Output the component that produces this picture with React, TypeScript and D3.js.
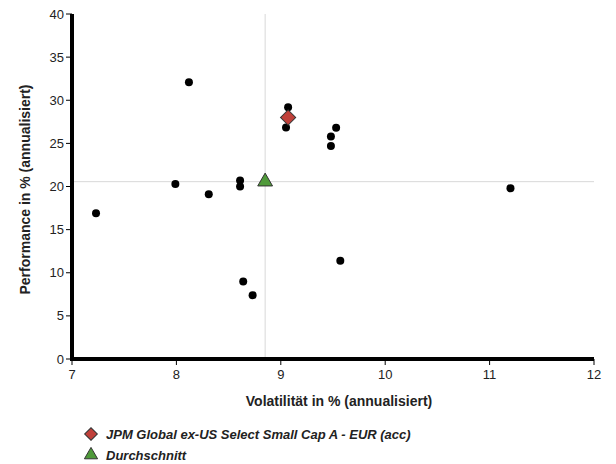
import React from "react";
import * as d3 from "d3";

const volatility = [7.23, 7.99, 8.12, 8.31, 8.61, 8.61, 8.64, 8.73, 9.07, 9.05, 9.53, 9.48, 9.48, 9.57, 11.2];
const performance = [16.9, 20.3, 32.1, 19.1, 20.7, 20.0, 9.0, 7.4, 29.2, 26.85, 26.8, 25.8, 24.7, 11.4, 19.8];
const fund = { name: "JPM Global ex-US Select Small Cap A - EUR (acc)", vol: 9.07, perf: 28.0 };
const average = { name: "Durchschnitt", vol: 8.85, perf: 20.56 };
const xTicks = [7, 8, 9, 10, 11, 12];
const yTicks = [0, 5, 10, 15, 20, 25, 30, 35, 40];

const W = 616, H = 464;
const left = 72, right = 594, top = 14, bottom = 359;

export default function App() {
  const x = d3.scaleLinear().domain([7, 12]).range([left, right]);
  const y = d3.scaleLinear().domain([0, 40]).range([bottom, top]);
  const font = "'Liberation Sans', Arial, sans-serif";
  const diamond = d3.symbol().type(d3.symbolSquare).size(115)();
  const tri = d3.symbol().type(d3.symbolTriangle).size(95)();
  const diamondSmall = d3.symbol().type(d3.symbolSquare).size(80)();
  const triSmall = d3.symbol().type(d3.symbolTriangle).size(75)();
  return (
    <svg width={W} height={H} style={{ position: "absolute", left: 0, top: 0 }} fontFamily={font}>
      <rect width={W} height={H} fill="#fff" />
      <line x1={x(average.vol)} x2={x(average.vol)} y1={top} y2={bottom} stroke="#d8d8d8" strokeWidth={1} />
      <line x1={left} x2={right} y1={y(average.perf)} y2={y(average.perf)} stroke="#d8d8d8" strokeWidth={1} />
      {yTicks.map((t) => (
        <g key={"y" + t}>
          <line x1={left - 6} x2={left} y1={y(t)} y2={y(t)} stroke="#000" />
          <text x={left - 8} y={y(t)} dy="0.35em" textAnchor="end" fontSize={13} fill="#222">{t}</text>
        </g>
      ))}
      {xTicks.map((t) => (
        <g key={"x" + t}>
          <line x1={x(t)} x2={x(t)} y1={bottom} y2={bottom + 6} stroke="#000" />
          <text x={x(t)} y={bottom + 20} textAnchor="middle" fontSize={13} fill="#222">{t}</text>
        </g>
      ))}
      <line x1={left} x2={left} y1={top} y2={bottom + 2} stroke="#000" strokeWidth={4} />
      <line x1={left - 2} x2={right} y1={bottom} y2={bottom} stroke="#000" strokeWidth={4} />
      {volatility.map((v, i) => (
        <circle key={i} cx={x(v)} cy={y(performance[i])} r={4} fill="#000" />
      ))}
      <path d={tri!} transform={`translate(${x(average.vol)},${y(average.perf)})`} fill="#4f9a3a" stroke="#333" strokeWidth={1} />
      <path d={diamond!} transform={`translate(${x(fund.vol)},${y(fund.perf)}) rotate(45)`} fill="#c0403a" stroke="#333" strokeWidth={1} />
      <text x={(left + right) / 2 + 6} y={406} textAnchor="middle" fontSize={14} fontWeight="bold" fill="#222">Volatilität in % (annualisiert)</text>
      <text transform={`translate(30,${(top + bottom) / 2 + 3}) rotate(-90)`} textAnchor="middle" fontSize={14} fontWeight="bold" fill="#222">Performance in % (annualisiert)</text>
      <path d={diamondSmall!} transform="translate(91,434) rotate(45)" fill="#c0403a" stroke="#333" strokeWidth={1} />
      <text x={106} y={434} dy="0.35em" fontSize={13} fontStyle="italic" fontWeight="bold" fill="#222">{fund.name}</text>
      <path d={triSmall!} transform="translate(91,455)" fill="#4f9a3a" stroke="#333" strokeWidth={1} />
      <text x={106} y={455} dy="0.35em" fontSize={13} fontStyle="italic" fontWeight="bold" fill="#222">{average.name}</text>
    </svg>
  );
}
